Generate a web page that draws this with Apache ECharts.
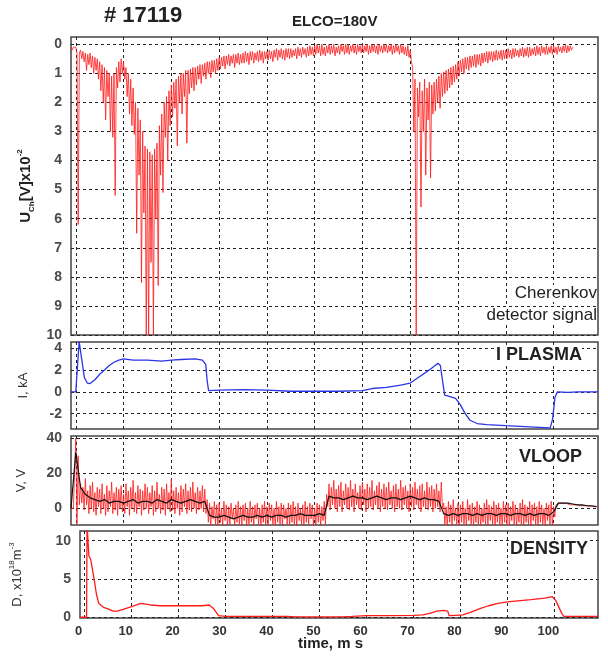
<!DOCTYPE html>
<html>
<head>
<meta charset="utf-8">
<script src="https://cdn.jsdelivr.net/npm/echarts@6.0.0/dist/echarts.min.js"></script>
<style>
html, body { margin: 0; background: #fff; }
#chart { width: 608px; height: 657px; }
</style>
</head>
<body>
<div id="chart"></div>
<script>
// shared time axis (ms)
const timeTicks = [0, 10, 20, 30, 40, 50, 60, 70, 80, 90, 100];

// Cherenkov detector signal, sampled every 0.25 ms from t = -1 (one row = 5 ms)
const chStart = -1, chStep = 0.25;
const cherenkov = [
  0.1, 0.2, 0.1, 0.15,
  0.1, 0.3, 6.2, 0.3, 0.2, 0.5, 0.25, 0.6, 0.3, 0.9, 0.35, 0.7, 0.3, 0.8, 0.4, 1.0, 0.45, 0.9, 0.5, 1.2,
  0.6, 1.6, 0.7, 2.0, 0.8, 2.6, 0.9, 1.8, 1.0, 3.0, 1.1, 3.2, 1.0, 5.2, 0.8, 1.5, 0.6, 1.3, 0.5, 1.0,
  0.6, 1.2, 0.8, 1.8, 1.0, 2.4, 1.2, 2.8, 1.5, 3.1, 2.0, 6.5, 2.2, 4.5, 2.6, 8.2, 3.0, 5.8, 3.5, 10,
  3.6, 10, 3.7, 7.5, 3.8, 10, 3.6, 6.0, 3.4, 8.3, 2.8, 4.5, 2.4, 5.1, 2.0, 3.2, 1.8, 4.0, 1.6, 2.8,
  1.4, 2.5, 1.3, 2.2, 1.2, 3.5, 1.1, 2.0, 1.0, 2.4, 1.0, 1.8, 0.9, 3.4, 0.9, 1.7, 0.85, 1.5, 0.8, 1.6,
  0.8, 1.4, 0.75, 1.2, 0.7, 1.35, 0.7, 1.1, 0.65, 1.2, 0.6, 1.0, 0.6, 1.15, 0.55, 0.95, 0.55, 1.0, 0.5, 0.9,
  0.45, 0.85, 0.45, 0.75, 0.4, 0.85, 0.4, 0.7, 0.35, 0.75, 0.4, 0.65, 0.35, 0.8, 0.35, 0.65, 0.3, 0.7, 0.35, 0.65,
  0.3, 0.65, 0.25, 0.6, 0.3, 0.7, 0.25, 0.55, 0.25, 0.65, 0.3, 0.55, 0.25, 0.6, 0.2, 0.55, 0.25, 0.65, 0.25, 0.5,
  0.25, 0.55, 0.2, 0.5, 0.25, 0.6, 0.2, 0.45, 0.15, 0.55, 0.2, 0.45, 0.15, 0.5, 0.2, 0.55, 0.15, 0.45, 0.15, 0.5,
  0.15, 0.45, 0.2, 0.4, 0.15, 0.5, 0.1, 0.4, 0.15, 0.45, 0.1, 0.35, 0.15, 0.45, 0.1, 0.4, 0.05, 0.35, 0.1, 0.4,
  0.05, 0.35, 0.0, 0.3, 0.05, 0.4, 0.0, 0.35, 0.1, 0.4, 0.05, 0.3, 0.0, 0.35, 0.05, 0.3, 0.0, 0.4, 0.1, 0.3,
  0.05, 0.35, 0.0, 0.25, 0.05, 0.35, 0.0, 0.3, 0.0, 0.35, 0.05, 0.25, 0.0, 0.3, 0.05, 0.35, 0.0, 0.25, 0.05, 0.3,
  0.0, 0.3, 0.05, 0.25, 0.0, 0.35, 0.05, 0.3, 0.0, 0.25, 0.0, 0.3, 0.05, 0.35, 0.0, 0.25, 0.05, 0.3, 0.0, 0.25,
  0.0, 0.3, 0.05, 0.25, 0.0, 0.35, 0.05, 0.3, 0.0, 0.25, 0.05, 0.35, 0.0, 0.3, 0.05, 0.35, 0.1, 0.4, 0.05, 0.45,
  0.2, 0.6, 0.8, 3.0, 1.2, 10, 1.5, 2.5, 1.3, 5.6, 1.6, 3.0, 1.2, 4.5, 1.5, 2.6, 1.3, 4.6, 1.4, 2.4,
  1.3, 2.3, 1.2, 2.0, 1.1, 2.2, 1.0, 1.8, 0.95, 1.7, 0.9, 1.6, 0.85, 1.5, 0.8, 1.4, 0.75, 1.3, 0.7, 1.2,
  0.6, 1.1, 0.55, 0.95, 0.5, 1.0, 0.45, 0.85, 0.45, 0.9, 0.4, 0.8, 0.4, 0.75, 0.35, 0.8, 0.35, 0.7, 0.35, 0.75,
  0.3, 0.65, 0.3, 0.6, 0.25, 0.65, 0.25, 0.55, 0.25, 0.6, 0.25, 0.55, 0.2, 0.55, 0.25, 0.5, 0.2, 0.55, 0.2, 0.5,
  0.2, 0.5, 0.15, 0.45, 0.2, 0.5, 0.15, 0.45, 0.15, 0.4, 0.2, 0.45, 0.15, 0.4, 0.1, 0.45, 0.15, 0.4, 0.1, 0.45,
  0.1, 0.4, 0.15, 0.35, 0.1, 0.4, 0.05, 0.35, 0.1, 0.4, 0.05, 0.3, 0.1, 0.35, 0.05, 0.35, 0.1, 0.3, 0.05, 0.35,
  0.05, 0.3, 0.1, 0.35, 0.05, 0.25, 0.1, 0.3, 0.05, 0.25, 0.0, 0.3, 0.05, 0.25, 0.05, 0.2, 0.1
];

// plasma current, kA
const ipTime = [-1, 0, 0.7, 1.3, 1.8, 2.4, 3, 4, 5, 6, 7, 8, 9, 10, 12, 15, 18, 20, 22, 25, 26.5,
  27.2, 27.5, 27.8, 30, 35, 40, 45, 50, 55, 60, 62, 65, 68, 70, 72, 74, 75.8, 76.3, 76.8, 77.2,
  78, 79.5, 80.5, 81.5, 82.5, 84, 86, 90, 95, 99.3, 99.8, 100.3, 100.8, 103, 105, 109.3];
const ipValue = [0, 0, 4.6, 2.8, 1.3, 0.8, 0.75, 1.1, 1.6, 2.0, 2.4, 2.7, 2.9, 3.0, 2.9, 2.9, 2.8, 2.9, 2.95, 3.0, 2.9,
  2.5, 1.0, 0.1, 0.15, 0.2, 0.15, 0.05, 0.05, 0.05, 0.1, 0.3, 0.4, 0.6, 0.8, 1.4, 2.0, 2.6, 2.4, 0.9, -0.3,
  -0.4, -0.6, -1.2, -2.0, -2.6, -2.9, -3.0, -3.1, -3.2, -3.3, -2.5, -0.5, 0, -0.05, 0, 0];

// loop voltage, V: raw (red) every 0.25 ms from t = -1 (one row = 5 ms)
const vlStart = -1, vlStep = 0.25;
const vloopRaw = [
  0, 0, 0, 0,
  40, -9, 30, 2, 14, 3, 12, -1, 17, 2, 10, -3, 13, 0, 15, -2, 9, -4, 12, 1,
  11, -3, 14, 0, 8, -4, 13, -2, 10, 1, 15, -3, 9, -1, 12, -4, 11, 0, 13, -2,
  8, -3, 14, 1, 10, -4, 12, 0, 16, -2, 9, -3, 13, 1, 11, -4, 10, -1, 14, 0,
  12, -3, 9, 1, 13, -4, 10, -2, 15, 0, 8, -3, 12, -1, 11, -4, 14, 0, 9, -2,
  17, -1, 10, -3, 12, 0, 9, -4, 13, -2, 11, 1, 14, -3, 10, -1, 12, -2, 15, 0,
  9, -3, 12, -1, 10, 0, 13, -2, 11, -3, 5, -8, 3, -10, 1, -6, 4, -9, 2, -10,
  3, -8, 0, -10, 4, -7, 2, -10, 1, -9, 3, -6, 0, -10, 2, -8, 4, -9, 1, -10,
  2, -7, 3, -10, 0, -9, 4, -8, 1, -10, 2, -6, 3, -9, 0, -10, 2, -8, 4, -9,
  1, -10, 3, -7, 2, -9, 0, -10, 4, -8, 1, -9, 3, -10, 2, -6, 0, -9, 3, -10,
  2, -8, 4, -9, 1, -10, 3, -7, 0, -9, 2, -10, 4, -8, 1, -9, 3, -6, 2, -10,
  0, -9, 3, -8, 2, -10, 1, -7, 4, -9, 8, 1, 14, -1, 12, 2, 16, 0, 11, -2,
  13, 1, 15, -2, 10, 2, 14, 0, 12, -1, 16, 1, 11, -2, 14, 2, 9, 0, 13, -1,
  15, 2, 11, -2, 14, 0, 12, 1, 16, -1, 10, 2, 13, 0, 15, -2, 11, 1, 14, 0,
  12, -1, 15, 2, 10, 0, 13, -2, 14, 1, 11, 0, 16, -1, 12, 2, 13, 0, 10, -2,
  14, 1, 12, -1, 15, 2, 11, 0, 13, -2, 14, 1, 10, 0, 15, -1, 12, 1, 13, -2,
  11, 0, 14, 1, 10, -2, 15, 0, 3, -9, 1, -10, 4, -8, 2, -10, 5, -7, 0, -9,
  3, -10, 2, -8, 4, -9, 0, -10, 5, -7, 2, -9, 3, -10, 1, -8, 4, -9, 2, -10,
  0, -8, 3, -9, 5, -10, 2, -7, 1, -9, 4, -10, 2, -8, 3, -9, 0, -10, 4, -8,
  2, -9, 3, -10, 1, -7, 4, -9, 2, -10, 0, -8, 3, -9, 5, -10, 2, -8, 1, -9,
  4, -10, 2, -7, 3, -9, 1, -10, 4, -8, 2, -9, 0, -10, 3, -7, 2, -9, 4, -10,
  1, -5, 2, 3, 3, 3.5, 3, 3, 3, 2.5, 3, 2.5, 2.5, 2.5, 2, 2.5, 2, 2, 2, 2,
  2, 2, 1.5, 2, 1.5, 1.5, 1.5, 1, 1.5, 1, 1, 1, 1, 1, 1, 1, 1, 1
];
// loop voltage, smoothed (black) every 1 ms from t = -1
const vsStart = -1, vsStep = 1;
const vloopSmooth = [
  0,
  32, 12, 8, 6, 5, 4, 5, 3, 4, 4,
  3, 4, 5, 3, 4, 4, 3, 5, 4, 3,
  5, 4, 3, 4, 5, 4, 3, 4, -4, -5,
  -5, -4, -5, -6, -5, -4, -5, -5, -4, -5,
  -4, -5, -4, -4, -5, -4, -4, -3, -4, -4,
  -4, -3, -4, 7, 6, 6, 5, 6, 7, 6,
  6, 5, 6, 7, 6, 5, 6, 6, 5, 6,
  7, 6, 5, 6, 5, 5, 4, -3, -4, -3,
  -4, -3, -3, -4, -3, -4, -3, -3, -4, -3,
  -3, -4, -3, -3, -4, -3, -4, -3, -3, -4,
  -2, 3, 3, 3, 2.5, 2, 2, 1.5, 1.5, 1
];

// density, 10^18 m^-3
const denTime = [-1, 0.4, 0.5, 0.9, 1.3, 2, 2.5, 3, 4, 5, 6, 7, 8, 9, 10, 11, 12, 14, 16, 20, 25, 26.5,
  27.5, 28.5, 30, 35, 40, 43, 45, 50, 55, 57, 60, 65, 70, 72, 73.5, 75, 76.5, 77.3, 77.6, 79, 80.5,
  82, 84, 86, 88, 90, 95, 98, 99.5, 100.3, 101.5, 102, 105, 109.3];
const denValue = [0, 0, 12, 8, 7.5, 5, 3, 1.8, 1.3, 1.1, 0.8, 0.8, 1.0, 1.2, 1.4, 1.6, 1.8, 1.6, 1.5, 1.5, 1.5, 1.6,
  1.1, 0.2, 0.1, 0.1, 0.1, 0.1, 0.05, 0.05, 0.05, 0.1, 0.2, 0.2, 0.25, 0.3, 0.5, 0.8, 0.9, 0.8, 0.2, 0.25, 0.3,
  0.6, 1.1, 1.5, 1.8, 2.0, 2.3, 2.5, 2.7, 2.2, 0.6, 0.1, 0.1, 0.1];

const chTicks = [0, 1, 2, 3, 4, 5, 6, 7, 8, 9, 10];
const ipTicks = [-2, 0, 2, 4];
const vlTicks = [0, 20, 40];
const denTicks = [0, 5, 10];

const sampled = (start, step, vals) => vals.map((v, i) => [start + i * step, v]);
const paired = (ts, vs) => ts.map((t, i) => [t, vs[i]]);

const font = 'Liberation Sans, Arial, sans-serif';
const gridLine = { show: true, lineStyle: { color: '#222', type: [3, 3], width: 1 } };

const grids = [
  { left: 71, right: 10, top: 37, height: 298 },
  { left: 71, right: 10, top: 342, height: 87 },
  { left: 71, right: 10, top: 436, height: 89 },
  { left: 71, right: 10, top: 531, height: 87 }
].map(g => Object.assign(g, { show: true, borderColor: '#444', borderWidth: 1.5, backgroundColor: 'transparent' }));

const xAxes = grids.map((g, i) => ({
  type: 'value', gridIndex: i, min: -1, max: 109.3,
  axisLine: { show: false },
  axisTick: { show: false, customValues: timeTicks },
  axisLabel: {
    show: i === 3, customValues: timeTicks, margin: 7, padding: [0, 12, 0, 0],
    fontSize: 13, fontWeight: 'bold', color: '#333', fontFamily: font
  },
  splitLine: gridLine
}));

function yAxis(i, min, max, ticks, name, gap, inverse) {
  return {
    type: 'value', gridIndex: i, min: min, max: max, inverse: !!inverse,
    axisLine: { show: false },
    axisTick: { show: false, customValues: ticks },
    axisLabel: { customValues: ticks, margin: 9, fontSize: 14, fontWeight: 'bold', color: '#4a4a4a', fontFamily: font },
    splitLine: gridLine,
    name: name, nameLocation: 'middle', nameRotate: 90, nameGap: gap,
    nameTextStyle: {
      fontFamily: font, fontSize: 13, color: '#333',
      rich: {
        b: { fontSize: 15, fontWeight: 'bold', fontFamily: font, color: '#222', lineHeight: 20 },
        s: { fontSize: 8, fontWeight: 'bold', fontFamily: font, color: '#222', verticalAlign: 'bottom', lineHeight: 12 },
        p: { fontSize: 8, fontWeight: 'bold', fontFamily: font, color: '#222', verticalAlign: 'top', lineHeight: 12 },
        n: { fontSize: 13, fontFamily: font, color: '#333', lineHeight: 18 },
        q: { fontSize: 8, fontFamily: font, color: '#333', verticalAlign: 'top', lineHeight: 10 }
      }
    }
  };
}

const yAxes = [
  yAxis(0, -0.25, 10, chTicks, '{b|U}{s|Ch}{b|[V]x10}{p|-2}', 31, true),
  yAxis(1, -3.4, 4.55, ipTicks, 'I, kA', 41),
  yAxis(2, -9.5, 41.3, vlTicks, 'V, V', 43),
  yAxis(3, -0.1, 11.26, denTicks, '{n|D, x10}{q|18}{n|m}{q|-3}', 54)
];

function label(text, pos, size, weight) {
  return Object.assign({
    text: text, padding: 0,
    textStyle: { fontFamily: font, fontSize: size, fontWeight: weight || 'bold', color: '#222' }
  }, pos);
}

const chart = echarts.init(document.getElementById('chart'));
chart.setOption({
  animation: false,
  backgroundColor: '#fff',
  title: [
    label('# 17119', { left: 104, top: 5 }, 22),
    label('ELCO=180V', { left: 292, top: 14 }, 15),
    label('Cherenkov', { right: 11, top: 285, backgroundColor: '#fff' }, 17, 'normal'),
    label('detector signal', { right: 11, top: 307, backgroundColor: '#fff' }, 17, 'normal'),
    label('I PLASMA', { right: 26, top: 346, backgroundColor: '#fff' }, 18),
    label('VLOOP', { right: 26, top: 448, backgroundColor: '#fff' }, 18),
    label('DENSITY', { right: 20, top: 540, backgroundColor: '#fff' }, 18),
    label('time, m s', { left: 298, top: 636 }, 15)
  ],
  grid: grids,
  xAxis: xAxes,
  yAxis: yAxes,
  series: [
    {
      type: 'line', xAxisIndex: 0, yAxisIndex: 0, showSymbol: false,
      lineStyle: { color: '#ff1a1a', width: 1, opacity: 0.8 },
      data: sampled(chStart, chStep, cherenkov)
    },
    {
      type: 'line', xAxisIndex: 1, yAxisIndex: 1, showSymbol: false,
      lineStyle: { color: '#2a35e8', width: 1.3 },
      data: paired(ipTime, ipValue)
    },
    {
      type: 'line', xAxisIndex: 2, yAxisIndex: 2, showSymbol: false,
      lineStyle: { color: '#ff1a1a', width: 1, opacity: 0.8 },
      data: sampled(vlStart, vlStep, vloopRaw)
    },
    {
      type: 'line', xAxisIndex: 2, yAxisIndex: 2, showSymbol: false,
      lineStyle: { color: '#111', width: 1.2 },
      data: sampled(vsStart, vsStep, vloopSmooth)
    },
    {
      type: 'line', xAxisIndex: 3, yAxisIndex: 3, showSymbol: false,
      lineStyle: { color: '#ff1a1a', width: 1.3 },
      data: paired(denTime, denValue)
    }
  ]
});
</script>
</body>
</html>
